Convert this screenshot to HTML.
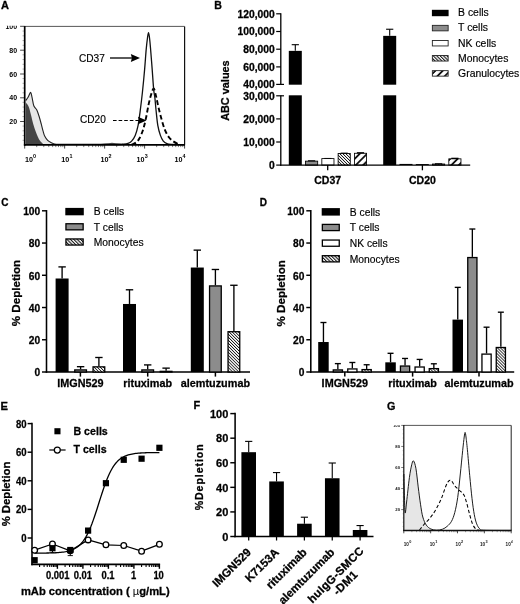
<!DOCTYPE html>
<html><head><meta charset="utf-8"><title>figure</title>
<style>
html,body{margin:0;padding:0;background:#fff;overflow:hidden;}
.hb{stroke:#000;stroke-width:0.28px;}
.hr{stroke:#000;stroke-width:0.16px;}
svg{display:block;will-change:transform;filter:blur(0.3px);font-family:"Liberation Sans",sans-serif;}
</style></head>
<body>
<svg width="520" height="604" viewBox="0 0 520 604">
<rect width="520" height="604" fill="#fff"/>
<defs>
<pattern id="hf" width="2.15" height="2.15" patternUnits="userSpaceOnUse" patternTransform="rotate(-45)">
<rect width="2.15" height="2.15" fill="#fff"/><rect width="0.8" height="2.15" fill="#111"/></pattern>
<pattern id="hl" width="2.4" height="2.4" patternUnits="userSpaceOnUse" patternTransform="rotate(-45)">
<rect width="2.4" height="2.4" fill="#fff"/><rect width="1.05" height="2.4" fill="#111"/></pattern>
<pattern id="hc" width="5.2" height="5.2" patternUnits="userSpaceOnUse" patternTransform="rotate(-135)">
<rect width="5.2" height="5.2" fill="#fff"/><rect width="1.8" height="5.2" fill="#111"/></pattern>
</defs>
<text x="0.90" y="9.10" font-size="11" font-weight="bold" text-anchor="start" fill="#000"  class="hb">A</text>
<clipPath id="clipA"><rect x="0" y="25.8" width="30" height="10"/></clipPath>
<line x1="24.70" y1="26.40" x2="184.60" y2="26.40" stroke="#444" stroke-width="0.9" />
<line x1="184.60" y1="26.40" x2="184.60" y2="144.80" stroke="#111" stroke-width="1.2" />
<line x1="20.10" y1="26.30" x2="24.70" y2="26.30" stroke="#333" stroke-width="0.9" />
<text x="17.10" y="28.90" font-size="7.0" font-weight="bold" text-anchor="end" fill="#000" clip-path="url(#clipA)">100</text>
<line x1="20.10" y1="50.20" x2="24.70" y2="50.20" stroke="#333" stroke-width="0.9" />
<text x="17.10" y="52.80" font-size="7.0" font-weight="bold" text-anchor="end" fill="#000" >80</text>
<line x1="20.10" y1="74.00" x2="24.70" y2="74.00" stroke="#333" stroke-width="0.9" />
<text x="17.10" y="76.60" font-size="7.0" font-weight="bold" text-anchor="end" fill="#000" >60</text>
<line x1="20.10" y1="97.80" x2="24.70" y2="97.80" stroke="#333" stroke-width="0.9" />
<text x="17.10" y="100.40" font-size="7.0" font-weight="bold" text-anchor="end" fill="#000" >40</text>
<line x1="20.10" y1="121.50" x2="24.70" y2="121.50" stroke="#333" stroke-width="0.9" />
<text x="17.10" y="124.10" font-size="7.0" font-weight="bold" text-anchor="end" fill="#000" >20</text>
<line x1="22.50" y1="31.05" x2="24.70" y2="31.05" stroke="#777" stroke-width="0.6" />
<line x1="22.50" y1="35.80" x2="24.70" y2="35.80" stroke="#777" stroke-width="0.6" />
<line x1="22.50" y1="40.55" x2="24.70" y2="40.55" stroke="#777" stroke-width="0.6" />
<line x1="22.50" y1="45.30" x2="24.70" y2="45.30" stroke="#777" stroke-width="0.6" />
<line x1="22.50" y1="54.80" x2="24.70" y2="54.80" stroke="#777" stroke-width="0.6" />
<line x1="22.50" y1="59.55" x2="24.70" y2="59.55" stroke="#777" stroke-width="0.6" />
<line x1="22.50" y1="64.30" x2="24.70" y2="64.30" stroke="#777" stroke-width="0.6" />
<line x1="22.50" y1="69.05" x2="24.70" y2="69.05" stroke="#777" stroke-width="0.6" />
<line x1="22.50" y1="78.55" x2="24.70" y2="78.55" stroke="#777" stroke-width="0.6" />
<line x1="22.50" y1="83.30" x2="24.70" y2="83.30" stroke="#777" stroke-width="0.6" />
<line x1="22.50" y1="88.05" x2="24.70" y2="88.05" stroke="#777" stroke-width="0.6" />
<line x1="22.50" y1="92.80" x2="24.70" y2="92.80" stroke="#777" stroke-width="0.6" />
<line x1="22.50" y1="102.30" x2="24.70" y2="102.30" stroke="#777" stroke-width="0.6" />
<line x1="22.50" y1="107.05" x2="24.70" y2="107.05" stroke="#777" stroke-width="0.6" />
<line x1="22.50" y1="111.80" x2="24.70" y2="111.80" stroke="#777" stroke-width="0.6" />
<line x1="22.50" y1="116.55" x2="24.70" y2="116.55" stroke="#777" stroke-width="0.6" />
<line x1="22.50" y1="126.05" x2="24.70" y2="126.05" stroke="#777" stroke-width="0.6" />
<line x1="22.50" y1="130.80" x2="24.70" y2="130.80" stroke="#777" stroke-width="0.6" />
<line x1="22.50" y1="135.55" x2="24.70" y2="135.55" stroke="#777" stroke-width="0.6" />
<line x1="22.50" y1="140.30" x2="24.70" y2="140.30" stroke="#777" stroke-width="0.6" />
<line x1="24.70" y1="144.80" x2="24.70" y2="148.60" stroke="#333" stroke-width="0.9" />
<line x1="36.73" y1="144.80" x2="36.73" y2="147.10" stroke="#444" stroke-width="0.7" />
<line x1="43.77" y1="144.80" x2="43.77" y2="147.10" stroke="#444" stroke-width="0.7" />
<line x1="48.77" y1="144.80" x2="48.77" y2="147.10" stroke="#444" stroke-width="0.7" />
<line x1="52.64" y1="144.80" x2="52.64" y2="147.10" stroke="#444" stroke-width="0.7" />
<line x1="55.81" y1="144.80" x2="55.81" y2="147.10" stroke="#444" stroke-width="0.7" />
<line x1="58.48" y1="144.80" x2="58.48" y2="147.10" stroke="#444" stroke-width="0.7" />
<line x1="60.80" y1="144.80" x2="60.80" y2="147.10" stroke="#444" stroke-width="0.7" />
<line x1="62.85" y1="144.80" x2="62.85" y2="147.10" stroke="#444" stroke-width="0.7" />
<line x1="64.67" y1="144.80" x2="64.67" y2="148.60" stroke="#333" stroke-width="0.9" />
<line x1="76.71" y1="144.80" x2="76.71" y2="147.10" stroke="#444" stroke-width="0.7" />
<line x1="83.75" y1="144.80" x2="83.75" y2="147.10" stroke="#444" stroke-width="0.7" />
<line x1="88.74" y1="144.80" x2="88.74" y2="147.10" stroke="#444" stroke-width="0.7" />
<line x1="92.62" y1="144.80" x2="92.62" y2="147.10" stroke="#444" stroke-width="0.7" />
<line x1="95.78" y1="144.80" x2="95.78" y2="147.10" stroke="#444" stroke-width="0.7" />
<line x1="98.46" y1="144.80" x2="98.46" y2="147.10" stroke="#444" stroke-width="0.7" />
<line x1="100.78" y1="144.80" x2="100.78" y2="147.10" stroke="#444" stroke-width="0.7" />
<line x1="102.82" y1="144.80" x2="102.82" y2="147.10" stroke="#444" stroke-width="0.7" />
<line x1="104.65" y1="144.80" x2="104.65" y2="148.60" stroke="#333" stroke-width="0.9" />
<line x1="116.68" y1="144.80" x2="116.68" y2="147.10" stroke="#444" stroke-width="0.7" />
<line x1="123.72" y1="144.80" x2="123.72" y2="147.10" stroke="#444" stroke-width="0.7" />
<line x1="128.72" y1="144.80" x2="128.72" y2="147.10" stroke="#444" stroke-width="0.7" />
<line x1="132.59" y1="144.80" x2="132.59" y2="147.10" stroke="#444" stroke-width="0.7" />
<line x1="135.76" y1="144.80" x2="135.76" y2="147.10" stroke="#444" stroke-width="0.7" />
<line x1="138.43" y1="144.80" x2="138.43" y2="147.10" stroke="#444" stroke-width="0.7" />
<line x1="140.75" y1="144.80" x2="140.75" y2="147.10" stroke="#444" stroke-width="0.7" />
<line x1="142.80" y1="144.80" x2="142.80" y2="147.10" stroke="#444" stroke-width="0.7" />
<line x1="144.62" y1="144.80" x2="144.62" y2="148.60" stroke="#333" stroke-width="0.9" />
<line x1="156.66" y1="144.80" x2="156.66" y2="147.10" stroke="#444" stroke-width="0.7" />
<line x1="163.70" y1="144.80" x2="163.70" y2="147.10" stroke="#444" stroke-width="0.7" />
<line x1="168.69" y1="144.80" x2="168.69" y2="147.10" stroke="#444" stroke-width="0.7" />
<line x1="172.57" y1="144.80" x2="172.57" y2="147.10" stroke="#444" stroke-width="0.7" />
<line x1="175.73" y1="144.80" x2="175.73" y2="147.10" stroke="#444" stroke-width="0.7" />
<line x1="178.41" y1="144.80" x2="178.41" y2="147.10" stroke="#444" stroke-width="0.7" />
<line x1="180.73" y1="144.80" x2="180.73" y2="147.10" stroke="#444" stroke-width="0.7" />
<line x1="182.77" y1="144.80" x2="182.77" y2="147.10" stroke="#444" stroke-width="0.7" />
<line x1="184.60" y1="144.80" x2="184.60" y2="148.60" stroke="#333" stroke-width="0.9" />
<text x="24.90" y="161.70" font-size="7.2" font-weight="bold" text-anchor="start" fill="#000" >10</text>
<text x="33.10" y="157.50" font-size="5.4" font-weight="bold" text-anchor="start" fill="#000" >0</text>
<text x="61.20" y="161.70" font-size="7.2" font-weight="bold" text-anchor="start" fill="#000" >10</text>
<text x="69.40" y="157.50" font-size="5.4" font-weight="bold" text-anchor="start" fill="#000" >1</text>
<text x="100.40" y="161.70" font-size="7.2" font-weight="bold" text-anchor="start" fill="#000" >10</text>
<text x="108.60" y="157.50" font-size="5.4" font-weight="bold" text-anchor="start" fill="#000" >2</text>
<text x="136.60" y="161.70" font-size="7.2" font-weight="bold" text-anchor="start" fill="#000" >10</text>
<text x="144.80" y="157.50" font-size="5.4" font-weight="bold" text-anchor="start" fill="#000" >3</text>
<text x="174.40" y="161.70" font-size="7.2" font-weight="bold" text-anchor="start" fill="#000" >10</text>
<text x="182.60" y="157.50" font-size="5.4" font-weight="bold" text-anchor="start" fill="#000" >4</text>
<path d="M25.80,100.50 C26.20,99.92 27.40,98.35 28.20,97.00 C29.00,95.65 29.95,92.28 30.60,92.40 C31.25,92.52 31.57,95.47 32.10,97.70 C32.63,99.93 33.03,103.78 33.80,105.80 C34.57,107.82 35.83,108.10 36.70,109.80 C37.57,111.50 38.23,113.60 39.00,116.00 C39.77,118.40 40.62,121.67 41.30,124.20 C41.98,126.73 42.52,129.18 43.10,131.20 C43.68,133.22 44.03,134.77 44.80,136.30 C45.57,137.83 46.63,139.33 47.70,140.40 C48.77,141.47 50.05,142.10 51.20,142.70 C52.35,143.30 53.13,143.72 54.60,144.00 C56.07,144.28 59.10,144.33 60.00,144.40 L60,144.8 L25.8,144.8 Z" fill="#e6e6e6" stroke="none" stroke-width="1" />
<path d="M25.80,102.60 C26.28,103.30 27.83,104.73 28.70,106.80 C29.57,108.87 30.23,112.10 31.00,115.00 C31.77,117.90 32.53,121.50 33.30,124.20 C34.07,126.90 34.83,129.07 35.60,131.20 C36.37,133.33 37.13,135.37 37.90,137.00 C38.67,138.63 39.28,139.80 40.20,141.00 C41.12,142.20 42.87,143.67 43.40,144.20 L25.8,144.8 Z" fill="#454545" stroke="none" stroke-width="1" />
<path d="M25.80,100.50 C26.20,99.92 27.40,98.35 28.20,97.00 C29.00,95.65 29.95,92.28 30.60,92.40 C31.25,92.52 31.57,95.47 32.10,97.70 C32.63,99.93 33.03,103.78 33.80,105.80 C34.57,107.82 35.83,108.10 36.70,109.80 C37.57,111.50 38.23,113.60 39.00,116.00 C39.77,118.40 40.62,121.67 41.30,124.20 C41.98,126.73 42.52,129.18 43.10,131.20 C43.68,133.22 44.03,134.77 44.80,136.30 C45.57,137.83 46.63,139.33 47.70,140.40 C48.77,141.47 50.05,142.10 51.20,142.70 C52.35,143.30 53.13,143.72 54.60,144.00 C56.07,144.28 59.10,144.33 60.00,144.40" fill="none" stroke="#222" stroke-width="1.1" />
<path d="M96,144.8 C103,143.20000000000002 108,143.60000000000002 112,142.8 C117,143.8 122,143.4 128,144.8 Z" fill="#555" stroke="none" stroke-width="1" />
<path d="M131.50,144.60 C132.23,144.27 134.57,143.65 135.90,142.60 C137.23,141.55 138.30,140.47 139.50,138.30 C140.70,136.13 142.02,132.98 143.10,129.60 C144.18,126.22 145.10,122.10 146.00,118.00 C146.90,113.90 147.67,108.83 148.50,105.00 C149.33,101.17 150.13,97.75 151.00,95.00 C151.87,92.25 152.85,88.27 153.70,88.50 C154.55,88.73 155.33,93.40 156.10,96.40 C156.87,99.40 157.45,102.90 158.30,106.50 C159.15,110.10 160.12,114.15 161.20,118.00 C162.28,121.85 163.48,126.35 164.80,129.60 C166.12,132.85 167.55,135.45 169.10,137.50 C170.65,139.55 172.45,140.75 174.10,141.90 C175.75,143.05 178.18,143.98 179.00,144.40" fill="none" stroke="#000" stroke-width="1.9" stroke-dasharray="4.8 2.7"/>
<path d="M60.00,144.40 C69.67,144.42 107.63,144.53 118.00,144.50 C128.37,144.47 120.53,144.40 122.20,144.20 C123.87,144.00 126.43,143.82 128.00,143.30 C129.57,142.78 130.40,142.42 131.60,141.10 C132.80,139.78 134.12,138.03 135.20,135.40 C136.28,132.77 137.27,129.40 138.10,125.30 C138.93,121.20 139.48,116.27 140.20,110.80 C140.92,105.33 141.67,99.37 142.40,92.50 C143.13,85.63 143.97,76.78 144.60,69.60 C145.23,62.42 145.70,54.83 146.20,49.40 C146.70,43.97 147.22,39.80 147.60,37.00 C147.98,34.20 148.20,32.60 148.50,32.60 C148.80,32.60 149.07,34.43 149.40,37.00 C149.73,39.57 150.03,42.57 150.50,48.00 C150.97,53.43 151.67,62.63 152.20,69.60 C152.73,76.57 153.25,85.07 153.70,89.80 C154.15,94.53 154.50,94.50 154.90,98.00 C155.30,101.50 155.62,106.25 156.10,110.80 C156.58,115.35 157.08,121.20 157.80,125.30 C158.52,129.40 159.48,132.77 160.40,135.40 C161.32,138.03 162.22,139.72 163.30,141.10 C164.38,142.48 165.57,143.15 166.90,143.70 C168.23,144.25 168.45,144.25 171.30,144.40 C174.15,144.55 181.88,144.57 184.00,144.60" fill="none" stroke="#111" stroke-width="1.3" />
<line x1="24.70" y1="26.10" x2="24.70" y2="145.70" stroke="#000" stroke-width="1.7" />
<line x1="23.90" y1="144.80" x2="185.00" y2="144.80" stroke="#000" stroke-width="1.7" />
<text x="79.00" y="61.90" font-size="10.1" font-weight="normal" text-anchor="start" fill="#000"  class="hr">CD37</text>
<line x1="110.00" y1="58.00" x2="133.00" y2="58.00" stroke="#000" stroke-width="1.3" />
<path d="M140.00,58.00 L130.80,54.10 L131.90,58.00 L130.80,61.90 Z" fill="#000" stroke="none" stroke-width="1" />
<text x="80.00" y="123.40" font-size="10.1" font-weight="normal" text-anchor="start" fill="#000"  class="hr">CD20</text>
<line x1="113.00" y1="120.50" x2="139.00" y2="120.50" stroke="#000" stroke-width="1.2" stroke-dasharray="3.6 2"/>
<path d="M146.50,120.50 L138.00,116.70 L139.10,120.50 L138.00,124.30 Z" fill="#000" stroke="none" stroke-width="1" />
<text x="214.20" y="9.20" font-size="10.6" font-weight="bold" text-anchor="start" fill="#000"  class="hb">B</text>
<line x1="280.80" y1="13.20" x2="280.80" y2="85.00" stroke="#000" stroke-width="1.3" />
<line x1="276.20" y1="13.80" x2="280.80" y2="13.80" stroke="#000" stroke-width="1.2" />
<text x="274.80" y="17.50" font-size="10.3" font-weight="bold" text-anchor="end" fill="#000"  class="hb">120,000</text>
<line x1="276.20" y1="31.50" x2="280.80" y2="31.50" stroke="#000" stroke-width="1.2" />
<text x="274.80" y="35.20" font-size="10.3" font-weight="bold" text-anchor="end" fill="#000"  class="hb">100,000</text>
<line x1="276.20" y1="49.20" x2="280.80" y2="49.20" stroke="#000" stroke-width="1.2" />
<text x="274.80" y="52.90" font-size="10.3" font-weight="bold" text-anchor="end" fill="#000"  class="hb">80,000</text>
<line x1="276.20" y1="66.90" x2="280.80" y2="66.90" stroke="#000" stroke-width="1.2" />
<text x="274.80" y="70.60" font-size="10.3" font-weight="bold" text-anchor="end" fill="#000"  class="hb">60,000</text>
<line x1="276.20" y1="84.40" x2="280.80" y2="84.40" stroke="#000" stroke-width="1.2" />
<text x="274.80" y="88.10" font-size="10.3" font-weight="bold" text-anchor="end" fill="#000"  class="hb">40,000</text>
<line x1="280.80" y1="84.40" x2="284.00" y2="84.40" stroke="#000" stroke-width="1.2" />
<line x1="280.80" y1="95.20" x2="280.80" y2="165.70" stroke="#000" stroke-width="1.3" />
<line x1="276.20" y1="95.80" x2="280.80" y2="95.80" stroke="#000" stroke-width="1.2" />
<text x="274.80" y="99.50" font-size="10.3" font-weight="bold" text-anchor="end" fill="#000"  class="hb">30,000</text>
<line x1="276.20" y1="118.90" x2="280.80" y2="118.90" stroke="#000" stroke-width="1.2" />
<text x="274.80" y="122.60" font-size="10.3" font-weight="bold" text-anchor="end" fill="#000"  class="hb">20,000</text>
<line x1="276.20" y1="142.00" x2="280.80" y2="142.00" stroke="#000" stroke-width="1.2" />
<text x="274.80" y="145.70" font-size="10.3" font-weight="bold" text-anchor="end" fill="#000"  class="hb">10,000</text>
<line x1="276.20" y1="165.10" x2="280.80" y2="165.10" stroke="#000" stroke-width="1.2" />
<text x="274.80" y="168.80" font-size="10.3" font-weight="bold" text-anchor="end" fill="#000"  class="hb">0</text>
<line x1="280.80" y1="95.80" x2="284.00" y2="95.80" stroke="#000" stroke-width="1.2" />
<rect x="288.80" y="50.87" width="13.00" height="33.83" fill="#000" stroke="none" stroke-width="1" />
<rect x="288.80" y="95.30" width="13.00" height="69.80" fill="#000" stroke="none" stroke-width="1" />
<line x1="295.30" y1="50.87" x2="295.30" y2="44.69" stroke="#000" stroke-width="1.1" />
<line x1="291.70" y1="44.69" x2="298.90" y2="44.69" stroke="#000" stroke-width="1.1" />
<rect x="305.53" y="161.14" width="12.15" height="3.96" fill="#8c8c8c" stroke="#000" stroke-width="0.85" />
<rect x="308.00" y="160.25" width="7.20" height="1.06" fill="#000" stroke="none" stroke-width="1" />
<rect x="321.83" y="158.59" width="12.15" height="6.51" fill="#fff" stroke="#000" stroke-width="0.85" />
<rect x="324.30" y="157.94" width="7.20" height="0.83" fill="#000" stroke="none" stroke-width="1" />
<rect x="338.13" y="153.51" width="12.15" height="11.59" fill="url(#hf)" stroke="#000" stroke-width="0.85" />
<rect x="340.60" y="152.63" width="7.20" height="1.06" fill="#000" stroke="none" stroke-width="1" />
<rect x="354.43" y="153.28" width="12.15" height="11.82" fill="url(#hc)" stroke="#000" stroke-width="0.85" />
<rect x="356.90" y="152.16" width="7.20" height="1.29" fill="#000" stroke="none" stroke-width="1" />
<line x1="327.70" y1="165.10" x2="327.70" y2="170.30" stroke="#000" stroke-width="1.3" />
<text x="327.70" y="184.40" font-size="10.5" font-weight="bold" text-anchor="middle" fill="#000"  class="hb">CD37</text>
<rect x="383.20" y="35.86" width="13.00" height="48.84" fill="#000" stroke="none" stroke-width="1" />
<rect x="383.20" y="95.30" width="13.00" height="69.80" fill="#000" stroke="none" stroke-width="1" />
<line x1="389.70" y1="35.86" x2="389.70" y2="29.24" stroke="#000" stroke-width="1.1" />
<line x1="386.10" y1="29.24" x2="393.30" y2="29.24" stroke="#000" stroke-width="1.1" />
<line x1="399.50" y1="164.46" x2="412.50" y2="164.46" stroke="#000" stroke-width="1.0771999999999935" />
<line x1="415.80" y1="164.53" x2="428.80" y2="164.53" stroke="#000" stroke-width="0.9385999999999968" />
<rect x="432.53" y="164.02" width="12.15" height="1.08" fill="url(#hf)" stroke="#000" stroke-width="0.85" />
<rect x="435.00" y="163.25" width="7.20" height="0.95" fill="#000" stroke="none" stroke-width="1" />
<rect x="448.82" y="158.83" width="12.15" height="6.27" fill="url(#hc)" stroke="#000" stroke-width="0.85" />
<rect x="451.30" y="157.71" width="7.20" height="1.29" fill="#000" stroke="none" stroke-width="1" />
<line x1="422.40" y1="165.10" x2="422.40" y2="170.30" stroke="#000" stroke-width="1.3" />
<text x="422.40" y="184.40" font-size="10.5" font-weight="bold" text-anchor="middle" fill="#000"  class="hb">CD20</text>
<line x1="280.15" y1="165.10" x2="470.20" y2="165.10" stroke="#000" stroke-width="1.4" />
<text transform="translate(228.90,90.60) rotate(-90)" font-size="10.9" font-weight="bold" text-anchor="middle" fill="#000" class="hb">ABC values</text>
<rect x="431.90" y="9.80" width="16.70" height="6.40" fill="#000" stroke="none" stroke-width="1" />
<text x="458.10" y="16.30" font-size="10.4" font-weight="normal" text-anchor="start" fill="#000"  class="hr">B cells</text>
<rect x="432.35" y="25.35" width="15.80" height="5.50" fill="#8c8c8c" stroke="#222" stroke-width="0.9" />
<text x="458.10" y="31.40" font-size="10.4" font-weight="normal" text-anchor="start" fill="#000"  class="hr">T cells</text>
<rect x="432.35" y="40.45" width="15.80" height="5.50" fill="#fff" stroke="#222" stroke-width="0.9" />
<text x="458.10" y="46.50" font-size="10.4" font-weight="normal" text-anchor="start" fill="#000"  class="hr">NK cells</text>
<rect x="432.35" y="55.55" width="15.80" height="5.50" fill="url(#hl)" stroke="#222" stroke-width="0.9" />
<text x="458.10" y="61.60" font-size="10.4" font-weight="normal" text-anchor="start" fill="#000"  class="hr">Monocytes</text>
<rect x="432.35" y="70.65" width="15.80" height="5.50" fill="url(#hc)" stroke="#222" stroke-width="0.9" />
<text x="458.10" y="76.70" font-size="10.4" font-weight="normal" text-anchor="start" fill="#000"  class="hr">Granulocytes</text>
<text x="1.20" y="206.20" font-size="10" font-weight="bold" text-anchor="start" fill="#000"  class="hb">C</text>
<line x1="46.50" y1="210.05" x2="46.50" y2="372.75" stroke="#000" stroke-width="1.55" />
<line x1="42.00" y1="210.80" x2="46.50" y2="210.80" stroke="#000" stroke-width="1.45" />
<text transform="translate(40.20,215.10) scale(0.93,1)" font-size="11.0" font-weight="bold" text-anchor="end" fill="#000"  class="hb">100</text>
<line x1="42.00" y1="243.04" x2="46.50" y2="243.04" stroke="#000" stroke-width="1.45" />
<text transform="translate(40.20,247.34) scale(0.93,1)" font-size="11.0" font-weight="bold" text-anchor="end" fill="#000"  class="hb">80</text>
<line x1="42.00" y1="275.28" x2="46.50" y2="275.28" stroke="#000" stroke-width="1.45" />
<text transform="translate(40.20,279.58) scale(0.93,1)" font-size="11.0" font-weight="bold" text-anchor="end" fill="#000"  class="hb">60</text>
<line x1="42.00" y1="307.52" x2="46.50" y2="307.52" stroke="#000" stroke-width="1.45" />
<text transform="translate(40.20,311.82) scale(0.93,1)" font-size="11.0" font-weight="bold" text-anchor="end" fill="#000"  class="hb">40</text>
<line x1="42.00" y1="339.76" x2="46.50" y2="339.76" stroke="#000" stroke-width="1.45" />
<text transform="translate(40.20,344.06) scale(0.93,1)" font-size="11.0" font-weight="bold" text-anchor="end" fill="#000"  class="hb">20</text>
<line x1="42.00" y1="372.00" x2="46.50" y2="372.00" stroke="#000" stroke-width="1.45" />
<text transform="translate(40.20,376.30) scale(0.93,1)" font-size="11.0" font-weight="bold" text-anchor="end" fill="#000"  class="hb">0</text>
<line x1="45.75" y1="372.00" x2="250.00" y2="372.00" stroke="#000" stroke-width="1.6" />
<line x1="62.10" y1="278.50" x2="62.10" y2="266.90" stroke="#000" stroke-width="1.35" />
<line x1="58.40" y1="266.90" x2="65.80" y2="266.90" stroke="#000" stroke-width="1.35" />
<rect x="55.60" y="278.50" width="13.00" height="93.50" fill="#000" stroke="none" stroke-width="1" />
<line x1="80.60" y1="369.26" x2="80.60" y2="366.68" stroke="#000" stroke-width="1.35" />
<line x1="76.90" y1="366.68" x2="84.30" y2="366.68" stroke="#000" stroke-width="1.35" />
<rect x="74.75" y="369.91" width="11.70" height="2.09" fill="#8c8c8c" stroke="#000" stroke-width="1.3" />
<line x1="98.90" y1="366.20" x2="98.90" y2="357.49" stroke="#000" stroke-width="1.35" />
<line x1="95.20" y1="357.49" x2="102.60" y2="357.49" stroke="#000" stroke-width="1.35" />
<rect x="93.05" y="366.85" width="11.70" height="5.15" fill="url(#hf)" stroke="#000" stroke-width="1.3" />
<line x1="80.40" y1="372.00" x2="80.40" y2="376.60" stroke="#000" stroke-width="1.5" />
<text transform="translate(80.40,387.00) scale(0.935,1)" font-size="11.6" font-weight="bold" text-anchor="middle" fill="#000"  class="hb">IMGN529</text>
<line x1="129.50" y1="303.97" x2="129.50" y2="289.79" stroke="#000" stroke-width="1.35" />
<line x1="125.80" y1="289.79" x2="133.20" y2="289.79" stroke="#000" stroke-width="1.35" />
<rect x="123.00" y="303.97" width="13.00" height="68.03" fill="#000" stroke="none" stroke-width="1" />
<line x1="147.70" y1="369.26" x2="147.70" y2="364.91" stroke="#000" stroke-width="1.35" />
<line x1="144.00" y1="364.91" x2="151.40" y2="364.91" stroke="#000" stroke-width="1.35" />
<rect x="141.85" y="369.91" width="11.70" height="2.09" fill="#8c8c8c" stroke="#000" stroke-width="1.3" />
<line x1="166.10" y1="370.71" x2="166.10" y2="368.13" stroke="#000" stroke-width="1.35" />
<line x1="162.40" y1="368.13" x2="169.80" y2="368.13" stroke="#000" stroke-width="1.35" />
<rect x="160.25" y="371.36" width="11.70" height="0.64" fill="url(#hf)" stroke="#000" stroke-width="1.3" />
<line x1="147.70" y1="372.00" x2="147.70" y2="376.60" stroke="#000" stroke-width="1.5" />
<text transform="translate(147.70,387.00) scale(0.935,1)" font-size="11.6" font-weight="bold" text-anchor="middle" fill="#000"  class="hb">rituximab</text>
<line x1="197.30" y1="267.54" x2="197.30" y2="250.13" stroke="#000" stroke-width="1.35" />
<line x1="193.60" y1="250.13" x2="201.00" y2="250.13" stroke="#000" stroke-width="1.35" />
<rect x="190.80" y="267.54" width="13.00" height="104.46" fill="#000" stroke="none" stroke-width="1" />
<line x1="215.40" y1="285.27" x2="215.40" y2="269.48" stroke="#000" stroke-width="1.35" />
<line x1="211.70" y1="269.48" x2="219.10" y2="269.48" stroke="#000" stroke-width="1.35" />
<rect x="209.55" y="285.92" width="11.70" height="86.08" fill="#8c8c8c" stroke="#000" stroke-width="1.3" />
<line x1="233.90" y1="331.06" x2="233.90" y2="285.27" stroke="#000" stroke-width="1.35" />
<line x1="230.20" y1="285.27" x2="237.60" y2="285.27" stroke="#000" stroke-width="1.35" />
<rect x="228.05" y="331.71" width="11.70" height="40.29" fill="url(#hf)" stroke="#000" stroke-width="1.3" />
<line x1="215.40" y1="372.00" x2="215.40" y2="376.60" stroke="#000" stroke-width="1.5" />
<text transform="translate(215.40,387.00) scale(0.935,1)" font-size="11.6" font-weight="bold" text-anchor="middle" fill="#000"  class="hb">alemtuzumab</text>
<text transform="translate(19.60,293.00) rotate(-90)" font-size="11.6" font-weight="bold" text-anchor="middle" fill="#000" class="hb">% Depletion</text>
<rect x="65.30" y="207.90" width="18.50" height="7.40" fill="#000" stroke="none" stroke-width="1" />
<text x="93.80" y="215.40" font-size="10.3" font-weight="normal" text-anchor="start" fill="#000"  class="hr">B cells</text>
<rect x="65.95" y="223.75" width="17.20" height="6.10" fill="#8c8c8c" stroke="#000" stroke-width="1.3" />
<text x="93.80" y="230.60" font-size="10.3" font-weight="normal" text-anchor="start" fill="#000"  class="hr">T cells</text>
<rect x="65.95" y="238.95" width="17.20" height="6.10" fill="url(#hl)" stroke="#000" stroke-width="1.3" />
<text x="93.80" y="245.80" font-size="10.3" font-weight="normal" text-anchor="start" fill="#000"  class="hr">Monocytes</text>
<text x="259.80" y="206.20" font-size="10" font-weight="bold" text-anchor="start" fill="#000"  class="hb">D</text>
<line x1="310.80" y1="210.05" x2="310.80" y2="372.75" stroke="#000" stroke-width="1.55" />
<line x1="306.30" y1="210.80" x2="310.80" y2="210.80" stroke="#000" stroke-width="1.45" />
<text transform="translate(304.40,215.10) scale(0.93,1)" font-size="11.0" font-weight="bold" text-anchor="end" fill="#000"  class="hb">100</text>
<line x1="306.30" y1="243.04" x2="310.80" y2="243.04" stroke="#000" stroke-width="1.45" />
<text transform="translate(304.40,247.34) scale(0.93,1)" font-size="11.0" font-weight="bold" text-anchor="end" fill="#000"  class="hb">80</text>
<line x1="306.30" y1="275.28" x2="310.80" y2="275.28" stroke="#000" stroke-width="1.45" />
<text transform="translate(304.40,279.58) scale(0.93,1)" font-size="11.0" font-weight="bold" text-anchor="end" fill="#000"  class="hb">60</text>
<line x1="306.30" y1="307.52" x2="310.80" y2="307.52" stroke="#000" stroke-width="1.45" />
<text transform="translate(304.40,311.82) scale(0.93,1)" font-size="11.0" font-weight="bold" text-anchor="end" fill="#000"  class="hb">40</text>
<line x1="306.30" y1="339.76" x2="310.80" y2="339.76" stroke="#000" stroke-width="1.45" />
<text transform="translate(304.40,344.06) scale(0.93,1)" font-size="11.0" font-weight="bold" text-anchor="end" fill="#000"  class="hb">20</text>
<line x1="306.30" y1="372.00" x2="310.80" y2="372.00" stroke="#000" stroke-width="1.45" />
<text transform="translate(304.40,376.30) scale(0.93,1)" font-size="11.0" font-weight="bold" text-anchor="end" fill="#000"  class="hb">0</text>
<line x1="310.05" y1="372.00" x2="514.20" y2="372.00" stroke="#000" stroke-width="1.6" />
<line x1="323.45" y1="342.02" x2="323.45" y2="322.51" stroke="#000" stroke-width="1.35" />
<line x1="320.45" y1="322.51" x2="326.45" y2="322.51" stroke="#000" stroke-width="1.35" />
<rect x="318.20" y="342.02" width="10.50" height="29.98" fill="#000" stroke="none" stroke-width="1" />
<line x1="337.85" y1="369.26" x2="337.85" y2="363.62" stroke="#000" stroke-width="1.35" />
<line x1="334.85" y1="363.62" x2="340.85" y2="363.62" stroke="#000" stroke-width="1.35" />
<rect x="333.25" y="369.91" width="9.20" height="2.09" fill="#8c8c8c" stroke="#000" stroke-width="1.3" />
<line x1="352.35" y1="368.29" x2="352.35" y2="362.49" stroke="#000" stroke-width="1.35" />
<line x1="349.35" y1="362.49" x2="355.35" y2="362.49" stroke="#000" stroke-width="1.35" />
<rect x="347.75" y="368.94" width="9.20" height="3.06" fill="#fff" stroke="#000" stroke-width="1.3" />
<line x1="366.65" y1="368.94" x2="366.65" y2="364.75" stroke="#000" stroke-width="1.35" />
<line x1="363.65" y1="364.75" x2="369.65" y2="364.75" stroke="#000" stroke-width="1.35" />
<rect x="362.05" y="369.59" width="9.20" height="2.41" fill="url(#hf)" stroke="#000" stroke-width="1.3" />
<line x1="344.80" y1="372.00" x2="344.80" y2="376.60" stroke="#000" stroke-width="1.5" />
<text transform="translate(344.80,386.80) scale(0.935,1)" font-size="11.6" font-weight="bold" text-anchor="middle" fill="#000"  class="hb">IMGN529</text>
<line x1="390.55" y1="362.33" x2="390.55" y2="353.30" stroke="#000" stroke-width="1.35" />
<line x1="387.55" y1="353.30" x2="393.55" y2="353.30" stroke="#000" stroke-width="1.35" />
<rect x="385.30" y="362.33" width="10.50" height="9.67" fill="#000" stroke="none" stroke-width="1" />
<line x1="405.05" y1="365.39" x2="405.05" y2="358.46" stroke="#000" stroke-width="1.35" />
<line x1="402.05" y1="358.46" x2="408.05" y2="358.46" stroke="#000" stroke-width="1.35" />
<rect x="400.45" y="366.04" width="9.20" height="5.96" fill="#8c8c8c" stroke="#000" stroke-width="1.3" />
<line x1="419.65" y1="366.36" x2="419.65" y2="359.43" stroke="#000" stroke-width="1.35" />
<line x1="416.65" y1="359.43" x2="422.65" y2="359.43" stroke="#000" stroke-width="1.35" />
<rect x="415.05" y="367.01" width="9.20" height="4.99" fill="#fff" stroke="#000" stroke-width="1.3" />
<line x1="433.85" y1="367.97" x2="433.85" y2="363.78" stroke="#000" stroke-width="1.35" />
<line x1="430.85" y1="363.78" x2="436.85" y2="363.78" stroke="#000" stroke-width="1.35" />
<rect x="429.25" y="368.62" width="9.20" height="3.38" fill="url(#hf)" stroke="#000" stroke-width="1.3" />
<line x1="412.60" y1="372.00" x2="412.60" y2="376.60" stroke="#000" stroke-width="1.5" />
<text transform="translate(412.60,386.80) scale(0.935,1)" font-size="11.6" font-weight="bold" text-anchor="middle" fill="#000"  class="hb">rituximab</text>
<line x1="457.75" y1="319.61" x2="457.75" y2="287.37" stroke="#000" stroke-width="1.35" />
<line x1="454.75" y1="287.37" x2="460.75" y2="287.37" stroke="#000" stroke-width="1.35" />
<rect x="452.50" y="319.61" width="10.50" height="52.39" fill="#000" stroke="none" stroke-width="1" />
<line x1="472.35" y1="256.90" x2="472.35" y2="229.02" stroke="#000" stroke-width="1.35" />
<line x1="469.35" y1="229.02" x2="475.35" y2="229.02" stroke="#000" stroke-width="1.35" />
<rect x="467.75" y="257.55" width="9.20" height="114.45" fill="#8c8c8c" stroke="#000" stroke-width="1.3" />
<line x1="486.55" y1="353.46" x2="486.55" y2="327.19" stroke="#000" stroke-width="1.35" />
<line x1="483.55" y1="327.19" x2="489.55" y2="327.19" stroke="#000" stroke-width="1.35" />
<rect x="481.95" y="354.11" width="9.20" height="17.89" fill="#fff" stroke="#000" stroke-width="1.3" />
<line x1="500.85" y1="346.85" x2="500.85" y2="312.19" stroke="#000" stroke-width="1.35" />
<line x1="497.85" y1="312.19" x2="503.85" y2="312.19" stroke="#000" stroke-width="1.35" />
<rect x="496.25" y="347.50" width="9.20" height="24.50" fill="url(#hf)" stroke="#000" stroke-width="1.3" />
<line x1="479.00" y1="372.00" x2="479.00" y2="376.60" stroke="#000" stroke-width="1.5" />
<text transform="translate(479.00,386.80) scale(0.935,1)" font-size="11.6" font-weight="bold" text-anchor="middle" fill="#000"  class="hb">alemtuzumab</text>
<text transform="translate(284.60,293.30) rotate(-90)" font-size="11.6" font-weight="bold" text-anchor="middle" fill="#000" class="hb">% Depletion</text>
<rect x="321.70" y="208.10" width="18.20" height="7.50" fill="#000" stroke="none" stroke-width="1" />
<text x="349.80" y="215.60" font-size="10.3" font-weight="normal" text-anchor="start" fill="#000"  class="hr">B cells</text>
<rect x="322.35" y="224.40" width="16.90" height="6.20" fill="#8c8c8c" stroke="#000" stroke-width="1.3" />
<text x="349.80" y="231.25" font-size="10.3" font-weight="normal" text-anchor="start" fill="#000"  class="hr">T cells</text>
<rect x="322.35" y="240.05" width="16.90" height="6.20" fill="#fff" stroke="#000" stroke-width="1.3" />
<text x="349.80" y="246.90" font-size="10.3" font-weight="normal" text-anchor="start" fill="#000"  class="hr">NK cells</text>
<rect x="322.35" y="255.70" width="16.90" height="6.20" fill="url(#hl)" stroke="#000" stroke-width="1.3" />
<text x="349.80" y="262.55" font-size="10.3" font-weight="normal" text-anchor="start" fill="#000"  class="hr">Monocytes</text>
<text x="0.40" y="409.50" font-size="11.2" font-weight="bold" text-anchor="start" fill="#000"  class="hb">E</text>
<line x1="32.00" y1="422.85" x2="32.00" y2="565.15" stroke="#000" stroke-width="1.55" />
<line x1="27.60" y1="423.60" x2="32.00" y2="423.60" stroke="#000" stroke-width="1.45" />
<text transform="translate(26.60,427.50) scale(0.9,1)" font-size="10.6" font-weight="bold" text-anchor="end" fill="#000"  class="hb">80</text>
<line x1="27.60" y1="452.20" x2="32.00" y2="452.20" stroke="#000" stroke-width="1.45" />
<text transform="translate(26.60,456.10) scale(0.9,1)" font-size="10.6" font-weight="bold" text-anchor="end" fill="#000"  class="hb">60</text>
<line x1="27.60" y1="480.80" x2="32.00" y2="480.80" stroke="#000" stroke-width="1.45" />
<text transform="translate(26.60,484.70) scale(0.9,1)" font-size="10.6" font-weight="bold" text-anchor="end" fill="#000"  class="hb">40</text>
<line x1="27.60" y1="509.40" x2="32.00" y2="509.40" stroke="#000" stroke-width="1.45" />
<text transform="translate(26.60,513.30) scale(0.9,1)" font-size="10.6" font-weight="bold" text-anchor="end" fill="#000"  class="hb">20</text>
<line x1="27.60" y1="538.00" x2="32.00" y2="538.00" stroke="#000" stroke-width="1.45" />
<text transform="translate(26.60,541.90) scale(0.9,1)" font-size="10.6" font-weight="bold" text-anchor="end" fill="#000"  class="hb">0</text>
<line x1="31.25" y1="564.40" x2="160.10" y2="564.40" stroke="#000" stroke-width="1.6" />
<line x1="39.58" y1="564.40" x2="39.58" y2="567.00" stroke="#000" stroke-width="1.1" />
<line x1="44.07" y1="564.40" x2="44.07" y2="567.00" stroke="#000" stroke-width="1.1" />
<line x1="47.25" y1="564.40" x2="47.25" y2="567.00" stroke="#000" stroke-width="1.1" />
<line x1="49.72" y1="564.40" x2="49.72" y2="567.00" stroke="#000" stroke-width="1.1" />
<line x1="51.74" y1="564.40" x2="51.74" y2="567.00" stroke="#000" stroke-width="1.1" />
<line x1="53.45" y1="564.40" x2="53.45" y2="567.00" stroke="#000" stroke-width="1.1" />
<line x1="54.93" y1="564.40" x2="54.93" y2="567.00" stroke="#000" stroke-width="1.1" />
<line x1="56.23" y1="564.40" x2="56.23" y2="567.00" stroke="#000" stroke-width="1.1" />
<line x1="57.40" y1="564.40" x2="57.40" y2="568.80" stroke="#000" stroke-width="1.4" />
<line x1="65.08" y1="564.40" x2="65.08" y2="567.00" stroke="#000" stroke-width="1.1" />
<line x1="69.57" y1="564.40" x2="69.57" y2="567.00" stroke="#000" stroke-width="1.1" />
<line x1="72.75" y1="564.40" x2="72.75" y2="567.00" stroke="#000" stroke-width="1.1" />
<line x1="75.22" y1="564.40" x2="75.22" y2="567.00" stroke="#000" stroke-width="1.1" />
<line x1="77.24" y1="564.40" x2="77.24" y2="567.00" stroke="#000" stroke-width="1.1" />
<line x1="78.95" y1="564.40" x2="78.95" y2="567.00" stroke="#000" stroke-width="1.1" />
<line x1="80.43" y1="564.40" x2="80.43" y2="567.00" stroke="#000" stroke-width="1.1" />
<line x1="81.73" y1="564.40" x2="81.73" y2="567.00" stroke="#000" stroke-width="1.1" />
<line x1="82.90" y1="564.40" x2="82.90" y2="568.80" stroke="#000" stroke-width="1.4" />
<line x1="90.58" y1="564.40" x2="90.58" y2="567.00" stroke="#000" stroke-width="1.1" />
<line x1="95.07" y1="564.40" x2="95.07" y2="567.00" stroke="#000" stroke-width="1.1" />
<line x1="98.25" y1="564.40" x2="98.25" y2="567.00" stroke="#000" stroke-width="1.1" />
<line x1="100.72" y1="564.40" x2="100.72" y2="567.00" stroke="#000" stroke-width="1.1" />
<line x1="102.74" y1="564.40" x2="102.74" y2="567.00" stroke="#000" stroke-width="1.1" />
<line x1="104.45" y1="564.40" x2="104.45" y2="567.00" stroke="#000" stroke-width="1.1" />
<line x1="105.93" y1="564.40" x2="105.93" y2="567.00" stroke="#000" stroke-width="1.1" />
<line x1="107.23" y1="564.40" x2="107.23" y2="567.00" stroke="#000" stroke-width="1.1" />
<line x1="108.40" y1="564.40" x2="108.40" y2="568.80" stroke="#000" stroke-width="1.4" />
<line x1="116.08" y1="564.40" x2="116.08" y2="567.00" stroke="#000" stroke-width="1.1" />
<line x1="120.57" y1="564.40" x2="120.57" y2="567.00" stroke="#000" stroke-width="1.1" />
<line x1="123.75" y1="564.40" x2="123.75" y2="567.00" stroke="#000" stroke-width="1.1" />
<line x1="126.22" y1="564.40" x2="126.22" y2="567.00" stroke="#000" stroke-width="1.1" />
<line x1="128.24" y1="564.40" x2="128.24" y2="567.00" stroke="#000" stroke-width="1.1" />
<line x1="129.95" y1="564.40" x2="129.95" y2="567.00" stroke="#000" stroke-width="1.1" />
<line x1="131.43" y1="564.40" x2="131.43" y2="567.00" stroke="#000" stroke-width="1.1" />
<line x1="132.73" y1="564.40" x2="132.73" y2="567.00" stroke="#000" stroke-width="1.1" />
<line x1="133.90" y1="564.40" x2="133.90" y2="568.80" stroke="#000" stroke-width="1.4" />
<line x1="141.58" y1="564.40" x2="141.58" y2="567.00" stroke="#000" stroke-width="1.1" />
<line x1="146.07" y1="564.40" x2="146.07" y2="567.00" stroke="#000" stroke-width="1.1" />
<line x1="149.25" y1="564.40" x2="149.25" y2="567.00" stroke="#000" stroke-width="1.1" />
<line x1="151.72" y1="564.40" x2="151.72" y2="567.00" stroke="#000" stroke-width="1.1" />
<line x1="153.74" y1="564.40" x2="153.74" y2="567.00" stroke="#000" stroke-width="1.1" />
<line x1="155.45" y1="564.40" x2="155.45" y2="567.00" stroke="#000" stroke-width="1.1" />
<line x1="156.93" y1="564.40" x2="156.93" y2="567.00" stroke="#000" stroke-width="1.1" />
<line x1="158.23" y1="564.40" x2="158.23" y2="567.00" stroke="#000" stroke-width="1.1" />
<line x1="159.40" y1="564.40" x2="159.40" y2="568.80" stroke="#000" stroke-width="1.4" />
<text transform="translate(57.70,579.30) scale(0.87,1)" font-size="10.8" font-weight="bold" text-anchor="middle" fill="#000"  class="hb">0.001</text>
<text transform="translate(82.90,579.30) scale(0.87,1)" font-size="10.8" font-weight="bold" text-anchor="middle" fill="#000"  class="hb">0.01</text>
<text transform="translate(108.00,579.30) scale(0.87,1)" font-size="10.8" font-weight="bold" text-anchor="middle" fill="#000"  class="hb">0.1</text>
<text transform="translate(133.70,579.30) scale(0.87,1)" font-size="10.8" font-weight="bold" text-anchor="middle" fill="#000"  class="hb">1</text>
<text transform="translate(158.60,579.30) scale(0.87,1)" font-size="10.8" font-weight="bold" text-anchor="middle" fill="#000"  class="hb">10</text>
<text x="95.3" y="595.4" font-size="11.2" font-weight="bold" text-anchor="middle" fill="#000" class="hb">mAb concentration ( <tspan font-weight="normal" stroke="none">&#181;</tspan>g/mL)</text>
<text transform="translate(9.70,494.00) rotate(-90)" font-size="11.3" font-weight="bold" text-anchor="middle" fill="#000" class="hb">% Depletion</text>
<path d="M34.63,553.13 L35.88,553.12 L37.13,553.12 L38.38,553.11 L39.62,553.10 L40.87,553.09 L42.12,553.08 L43.37,553.07 L44.62,553.05 L45.86,553.04 L47.11,553.01 L48.36,552.99 L49.61,552.96 L50.85,552.93 L52.10,552.89 L53.35,552.84 L54.60,552.79 L55.84,552.73 L57.09,552.65 L58.34,552.57 L59.59,552.47 L60.83,552.35 L62.08,552.21 L63.33,552.06 L64.58,551.87 L65.83,551.65 L67.07,551.40 L68.32,551.11 L69.57,550.76 L70.82,550.36 L72.06,549.90 L73.31,549.37 L74.56,548.75 L75.81,548.03 L77.05,547.21 L78.30,546.26 L79.55,545.18 L80.80,543.94 L82.04,542.53 L83.29,540.94 L84.54,539.14 L85.79,537.13 L87.04,534.89 L88.28,532.41 L89.53,529.69 L90.78,526.73 L92.03,523.54 L93.27,520.14 L94.52,516.55 L95.77,512.81 L97.02,508.94 L98.26,505.00 L99.51,501.03 L100.76,497.09 L102.01,493.21 L103.26,489.45 L104.50,485.85 L105.75,482.43 L107.00,479.22 L108.25,476.24 L109.49,473.49 L110.74,470.99 L111.99,468.73 L113.24,466.69 L114.48,464.87 L115.73,463.26 L116.98,461.83 L118.23,460.58 L119.47,459.48 L120.72,458.52 L121.97,457.69 L123.22,456.96 L124.47,456.33 L125.71,455.79 L126.96,455.32 L128.21,454.92 L129.46,454.57 L130.70,454.27 L131.95,454.02 L133.20,453.79 L134.45,453.61 L135.69,453.44 L136.94,453.31 L138.19,453.19 L139.44,453.09 L140.69,453.00 L141.93,452.92 L143.18,452.86 L144.43,452.81 L145.68,452.76 L146.92,452.72 L148.17,452.69 L149.42,452.66 L150.67,452.63 L151.91,452.61 L153.16,452.59 L154.41,452.58 L155.66,452.56 L156.90,452.55 L158.15,452.54 L159.40,452.53" fill="none" stroke="#000" stroke-width="1.3" />
<path d="M34.63,550.20 L52.46,544.00 L70.28,550.80 L88.11,539.90 L105.93,544.80 L123.75,545.50 L141.58,551.20 L159.40,544.30" fill="none" stroke="#000" stroke-width="1.25" stroke-linejoin="round"/>
<circle cx="34.63" cy="550.20" r="2.85" fill="#fff" stroke="#000" stroke-width="1.3"/>
<circle cx="52.46" cy="544.00" r="2.85" fill="#fff" stroke="#000" stroke-width="1.3"/>
<circle cx="70.28" cy="550.80" r="2.85" fill="#fff" stroke="#000" stroke-width="1.3"/>
<circle cx="88.11" cy="539.90" r="2.85" fill="#fff" stroke="#000" stroke-width="1.3"/>
<circle cx="105.93" cy="544.80" r="2.85" fill="#fff" stroke="#000" stroke-width="1.3"/>
<circle cx="123.75" cy="545.50" r="2.85" fill="#fff" stroke="#000" stroke-width="1.3"/>
<circle cx="141.58" cy="551.20" r="2.85" fill="#fff" stroke="#000" stroke-width="1.3"/>
<circle cx="159.40" cy="544.30" r="2.85" fill="#fff" stroke="#000" stroke-width="1.3"/>
<line x1="52.46" y1="548.00" x2="52.46" y2="552.60" stroke="#000" stroke-width="1.0" />
<line x1="50.46" y1="552.60" x2="54.46" y2="552.60" stroke="#000" stroke-width="0.9" />
<line x1="70.28" y1="550.00" x2="70.28" y2="555.60" stroke="#000" stroke-width="1.0" />
<line x1="67.68" y1="555.60" x2="72.88" y2="555.60" stroke="#000" stroke-width="0.9" />
<rect x="31.53" y="557.10" width="6.20" height="6.20" fill="#000" stroke="none" stroke-width="1" />
<rect x="49.36" y="545.10" width="6.20" height="6.20" fill="#000" stroke="none" stroke-width="1" />
<rect x="67.18" y="546.90" width="6.20" height="6.20" fill="#000" stroke="none" stroke-width="1" />
<rect x="85.01" y="527.50" width="6.20" height="6.20" fill="#000" stroke="none" stroke-width="1" />
<rect x="102.83" y="480.10" width="6.20" height="6.20" fill="#000" stroke="none" stroke-width="1" />
<rect x="120.65" y="456.70" width="6.20" height="6.20" fill="#000" stroke="none" stroke-width="1" />
<rect x="138.48" y="455.60" width="6.20" height="6.20" fill="#000" stroke="none" stroke-width="1" />
<rect x="156.30" y="444.70" width="6.20" height="6.20" fill="#000" stroke="none" stroke-width="1" />
<rect x="54.40" y="428.20" width="6.10" height="6.10" fill="#000" stroke="none" stroke-width="1" />
<text transform="translate(73.50,434.90) scale(0.95,1)" font-size="11.2" font-weight="bold" text-anchor="start" fill="#000"  class="hb">B cells</text>
<line x1="49.30" y1="450.00" x2="65.60" y2="450.00" stroke="#000" stroke-width="1.2" />
<circle cx="57.3" cy="450.0" r="3.0" fill="#fff" stroke="#000" stroke-width="1.25"/>
<text transform="translate(73.50,453.30) scale(0.95,1)" font-size="11.2" font-weight="bold" text-anchor="start" fill="#000"  class="hb">T cells</text>
<text x="193.50" y="409.10" font-size="11" font-weight="bold" text-anchor="start" fill="#000"  class="hb">F</text>
<line x1="235.10" y1="412.85" x2="235.10" y2="537.25" stroke="#000" stroke-width="1.55" />
<line x1="230.30" y1="413.60" x2="235.10" y2="413.60" stroke="#000" stroke-width="1.45" />
<text x="228.30" y="417.90" font-size="11.0" font-weight="bold" text-anchor="end" fill="#000"  class="hb">100</text>
<line x1="230.30" y1="438.18" x2="235.10" y2="438.18" stroke="#000" stroke-width="1.45" />
<text x="228.30" y="442.48" font-size="11.0" font-weight="bold" text-anchor="end" fill="#000"  class="hb">80</text>
<line x1="230.30" y1="462.76" x2="235.10" y2="462.76" stroke="#000" stroke-width="1.45" />
<text x="228.30" y="467.06" font-size="11.0" font-weight="bold" text-anchor="end" fill="#000"  class="hb">60</text>
<line x1="230.30" y1="487.34" x2="235.10" y2="487.34" stroke="#000" stroke-width="1.45" />
<text x="228.30" y="491.64" font-size="11.0" font-weight="bold" text-anchor="end" fill="#000"  class="hb">40</text>
<line x1="230.30" y1="511.92" x2="235.10" y2="511.92" stroke="#000" stroke-width="1.45" />
<text x="228.30" y="516.22" font-size="11.0" font-weight="bold" text-anchor="end" fill="#000"  class="hb">20</text>
<line x1="230.30" y1="536.50" x2="235.10" y2="536.50" stroke="#000" stroke-width="1.45" />
<text x="228.30" y="540.80" font-size="11.0" font-weight="bold" text-anchor="end" fill="#000"  class="hb">0</text>
<line x1="234.35" y1="536.50" x2="373.50" y2="536.50" stroke="#000" stroke-width="1.6" />
<text transform="translate(202.9,477.3) rotate(-90)" font-size="10.6" font-weight="bold" text-anchor="middle" textLength="66" fill="#000" class="hb">%Depletion</text>
<line x1="248.70" y1="452.19" x2="248.70" y2="441.38" stroke="#000" stroke-width="1.1" />
<line x1="245.10" y1="441.38" x2="252.30" y2="441.38" stroke="#000" stroke-width="1.1" />
<rect x="241.40" y="452.19" width="14.60" height="84.31" fill="#000" stroke="none" stroke-width="1" />
<line x1="248.70" y1="536.50" x2="248.70" y2="540.50" stroke="#000" stroke-width="1.25" />
<text transform="translate(251.70,553.00) rotate(-45) scale(1.0,1)" font-size="11.5" font-weight="bold" text-anchor="end" fill="#000" class="hb">IMGN529</text>
<line x1="276.55" y1="481.44" x2="276.55" y2="472.59" stroke="#000" stroke-width="1.1" />
<line x1="272.95" y1="472.59" x2="280.15" y2="472.59" stroke="#000" stroke-width="1.1" />
<rect x="269.25" y="481.44" width="14.60" height="55.06" fill="#000" stroke="none" stroke-width="1" />
<line x1="276.55" y1="536.50" x2="276.55" y2="540.50" stroke="#000" stroke-width="1.25" />
<text transform="translate(279.55,553.00) rotate(-45) scale(1.0,1)" font-size="11.5" font-weight="bold" text-anchor="end" fill="#000" class="hb">K7153A</text>
<line x1="304.40" y1="523.72" x2="304.40" y2="517.20" stroke="#000" stroke-width="1.1" />
<line x1="300.80" y1="517.20" x2="308.00" y2="517.20" stroke="#000" stroke-width="1.1" />
<rect x="297.10" y="523.72" width="14.60" height="12.78" fill="#000" stroke="none" stroke-width="1" />
<line x1="304.40" y1="536.50" x2="304.40" y2="540.50" stroke="#000" stroke-width="1.25" />
<text transform="translate(307.40,553.00) rotate(-45) scale(1.0,1)" font-size="11.5" font-weight="bold" text-anchor="end" fill="#000" class="hb">rituximab</text>
<line x1="332.25" y1="478.25" x2="332.25" y2="463.01" stroke="#000" stroke-width="1.1" />
<line x1="328.65" y1="463.01" x2="335.85" y2="463.01" stroke="#000" stroke-width="1.1" />
<rect x="324.95" y="478.25" width="14.60" height="58.25" fill="#000" stroke="none" stroke-width="1" />
<line x1="332.25" y1="536.50" x2="332.25" y2="540.50" stroke="#000" stroke-width="1.25" />
<text transform="translate(335.25,553.00) rotate(-45) scale(1.0,1)" font-size="11.5" font-weight="bold" text-anchor="end" fill="#000" class="hb">alemtuzumab</text>
<line x1="360.10" y1="529.99" x2="360.10" y2="525.56" stroke="#000" stroke-width="1.1" />
<line x1="356.50" y1="525.56" x2="363.70" y2="525.56" stroke="#000" stroke-width="1.1" />
<rect x="352.80" y="529.99" width="14.60" height="6.51" fill="#000" stroke="none" stroke-width="1" />
<line x1="360.10" y1="536.50" x2="360.10" y2="540.50" stroke="#000" stroke-width="1.25" />
<g transform="translate(364.70,551.40) rotate(-45) scale(1.0,1)" font-size="11.5" font-weight="bold" fill="#000" class="hb"><text text-anchor="end" letter-spacing="0.3">huIgG-SMCC</text><text x="-36.0" y="12.4" text-anchor="middle" letter-spacing="0.3">-DM1</text></g>
<text x="387.00" y="409.80" font-size="10.8" font-weight="bold" text-anchor="start" fill="#000"  class="hb">G</text>
<clipPath id="clipG"><rect x="380" y="425.2" width="30" height="10"/></clipPath>
<clipPath id="clipG2"><rect x="400" y="530" width="112.6" height="30"/></clipPath>
<line x1="403.80" y1="425.40" x2="511.20" y2="425.40" stroke="#444" stroke-width="0.9" />
<line x1="511.20" y1="425.40" x2="511.20" y2="530.50" stroke="#222" stroke-width="1.0" />
<line x1="401.20" y1="425.40" x2="403.80" y2="425.40" stroke="#444" stroke-width="0.7" />
<text x="400.10" y="427.00" font-size="4.3" font-weight="bold" text-anchor="end" fill="#111" clip-path="url(#clipG)">100</text>
<line x1="401.20" y1="446.45" x2="403.80" y2="446.45" stroke="#444" stroke-width="0.7" />
<text x="400.10" y="448.05" font-size="4.3" font-weight="bold" text-anchor="end" fill="#111" >80</text>
<line x1="401.20" y1="467.50" x2="403.80" y2="467.50" stroke="#444" stroke-width="0.7" />
<text x="400.10" y="469.10" font-size="4.3" font-weight="bold" text-anchor="end" fill="#111" >60</text>
<line x1="401.20" y1="488.55" x2="403.80" y2="488.55" stroke="#444" stroke-width="0.7" />
<text x="400.10" y="490.15" font-size="4.3" font-weight="bold" text-anchor="end" fill="#111" >40</text>
<line x1="401.20" y1="509.60" x2="403.80" y2="509.60" stroke="#444" stroke-width="0.7" />
<text x="400.10" y="511.20" font-size="4.3" font-weight="bold" text-anchor="end" fill="#111" >20</text>
<line x1="402.40" y1="429.61" x2="403.80" y2="429.61" stroke="#999" stroke-width="0.4" />
<line x1="402.40" y1="433.82" x2="403.80" y2="433.82" stroke="#999" stroke-width="0.4" />
<line x1="402.40" y1="438.03" x2="403.80" y2="438.03" stroke="#999" stroke-width="0.4" />
<line x1="402.40" y1="442.24" x2="403.80" y2="442.24" stroke="#999" stroke-width="0.4" />
<line x1="402.40" y1="450.66" x2="403.80" y2="450.66" stroke="#999" stroke-width="0.4" />
<line x1="402.40" y1="454.87" x2="403.80" y2="454.87" stroke="#999" stroke-width="0.4" />
<line x1="402.40" y1="459.08" x2="403.80" y2="459.08" stroke="#999" stroke-width="0.4" />
<line x1="402.40" y1="463.29" x2="403.80" y2="463.29" stroke="#999" stroke-width="0.4" />
<line x1="402.40" y1="471.71" x2="403.80" y2="471.71" stroke="#999" stroke-width="0.4" />
<line x1="402.40" y1="475.92" x2="403.80" y2="475.92" stroke="#999" stroke-width="0.4" />
<line x1="402.40" y1="480.13" x2="403.80" y2="480.13" stroke="#999" stroke-width="0.4" />
<line x1="402.40" y1="484.34" x2="403.80" y2="484.34" stroke="#999" stroke-width="0.4" />
<line x1="402.40" y1="492.76" x2="403.80" y2="492.76" stroke="#999" stroke-width="0.4" />
<line x1="402.40" y1="496.97" x2="403.80" y2="496.97" stroke="#999" stroke-width="0.4" />
<line x1="402.40" y1="501.18" x2="403.80" y2="501.18" stroke="#999" stroke-width="0.4" />
<line x1="402.40" y1="505.39" x2="403.80" y2="505.39" stroke="#999" stroke-width="0.4" />
<line x1="402.40" y1="513.81" x2="403.80" y2="513.81" stroke="#999" stroke-width="0.4" />
<line x1="402.40" y1="518.02" x2="403.80" y2="518.02" stroke="#999" stroke-width="0.4" />
<line x1="402.40" y1="522.23" x2="403.80" y2="522.23" stroke="#999" stroke-width="0.4" />
<line x1="402.40" y1="526.44" x2="403.80" y2="526.44" stroke="#999" stroke-width="0.4" />
<line x1="403.80" y1="530.50" x2="403.80" y2="533.30" stroke="#222" stroke-width="0.8" />
<line x1="411.88" y1="530.50" x2="411.88" y2="532.20" stroke="#555" stroke-width="0.55" />
<line x1="416.61" y1="530.50" x2="416.61" y2="532.20" stroke="#555" stroke-width="0.55" />
<line x1="419.97" y1="530.50" x2="419.97" y2="532.20" stroke="#555" stroke-width="0.55" />
<line x1="422.57" y1="530.50" x2="422.57" y2="532.20" stroke="#555" stroke-width="0.55" />
<line x1="424.69" y1="530.50" x2="424.69" y2="532.20" stroke="#555" stroke-width="0.55" />
<line x1="426.49" y1="530.50" x2="426.49" y2="532.20" stroke="#555" stroke-width="0.55" />
<line x1="428.05" y1="530.50" x2="428.05" y2="532.20" stroke="#555" stroke-width="0.55" />
<line x1="429.42" y1="530.50" x2="429.42" y2="532.20" stroke="#555" stroke-width="0.55" />
<line x1="430.65" y1="530.50" x2="430.65" y2="533.30" stroke="#222" stroke-width="0.8" />
<line x1="438.73" y1="530.50" x2="438.73" y2="532.20" stroke="#555" stroke-width="0.55" />
<line x1="443.46" y1="530.50" x2="443.46" y2="532.20" stroke="#555" stroke-width="0.55" />
<line x1="446.82" y1="530.50" x2="446.82" y2="532.20" stroke="#555" stroke-width="0.55" />
<line x1="449.42" y1="530.50" x2="449.42" y2="532.20" stroke="#555" stroke-width="0.55" />
<line x1="451.54" y1="530.50" x2="451.54" y2="532.20" stroke="#555" stroke-width="0.55" />
<line x1="453.34" y1="530.50" x2="453.34" y2="532.20" stroke="#555" stroke-width="0.55" />
<line x1="454.90" y1="530.50" x2="454.90" y2="532.20" stroke="#555" stroke-width="0.55" />
<line x1="456.27" y1="530.50" x2="456.27" y2="532.20" stroke="#555" stroke-width="0.55" />
<line x1="457.50" y1="530.50" x2="457.50" y2="533.30" stroke="#222" stroke-width="0.8" />
<line x1="465.58" y1="530.50" x2="465.58" y2="532.20" stroke="#555" stroke-width="0.55" />
<line x1="470.31" y1="530.50" x2="470.31" y2="532.20" stroke="#555" stroke-width="0.55" />
<line x1="473.67" y1="530.50" x2="473.67" y2="532.20" stroke="#555" stroke-width="0.55" />
<line x1="476.27" y1="530.50" x2="476.27" y2="532.20" stroke="#555" stroke-width="0.55" />
<line x1="478.39" y1="530.50" x2="478.39" y2="532.20" stroke="#555" stroke-width="0.55" />
<line x1="480.19" y1="530.50" x2="480.19" y2="532.20" stroke="#555" stroke-width="0.55" />
<line x1="481.75" y1="530.50" x2="481.75" y2="532.20" stroke="#555" stroke-width="0.55" />
<line x1="483.12" y1="530.50" x2="483.12" y2="532.20" stroke="#555" stroke-width="0.55" />
<line x1="484.35" y1="530.50" x2="484.35" y2="533.30" stroke="#222" stroke-width="0.8" />
<line x1="492.43" y1="530.50" x2="492.43" y2="532.20" stroke="#555" stroke-width="0.55" />
<line x1="497.16" y1="530.50" x2="497.16" y2="532.20" stroke="#555" stroke-width="0.55" />
<line x1="500.52" y1="530.50" x2="500.52" y2="532.20" stroke="#555" stroke-width="0.55" />
<line x1="503.12" y1="530.50" x2="503.12" y2="532.20" stroke="#555" stroke-width="0.55" />
<line x1="505.24" y1="530.50" x2="505.24" y2="532.20" stroke="#555" stroke-width="0.55" />
<line x1="507.04" y1="530.50" x2="507.04" y2="532.20" stroke="#555" stroke-width="0.55" />
<line x1="508.60" y1="530.50" x2="508.60" y2="532.20" stroke="#555" stroke-width="0.55" />
<line x1="509.97" y1="530.50" x2="509.97" y2="532.20" stroke="#555" stroke-width="0.55" />
<line x1="511.20" y1="530.50" x2="511.20" y2="533.30" stroke="#222" stroke-width="0.8" />
<text x="403.80" y="546.00" font-size="4.6" font-weight="bold" text-anchor="start" fill="#111" clip-path="url(#clipG2)">10</text>
<text x="409.20" y="543.20" font-size="3.8" font-weight="bold" text-anchor="start" fill="#111" clip-path="url(#clipG2)">0</text>
<text x="429.80" y="546.00" font-size="4.6" font-weight="bold" text-anchor="start" fill="#111" clip-path="url(#clipG2)">10</text>
<text x="435.20" y="543.20" font-size="3.8" font-weight="bold" text-anchor="start" fill="#111" clip-path="url(#clipG2)">1</text>
<text x="455.60" y="546.00" font-size="4.6" font-weight="bold" text-anchor="start" fill="#111" clip-path="url(#clipG2)">10</text>
<text x="461.00" y="543.20" font-size="3.8" font-weight="bold" text-anchor="start" fill="#111" clip-path="url(#clipG2)">2</text>
<text x="480.00" y="546.00" font-size="4.6" font-weight="bold" text-anchor="start" fill="#111" clip-path="url(#clipG2)">10</text>
<text x="485.40" y="543.20" font-size="3.8" font-weight="bold" text-anchor="start" fill="#111" clip-path="url(#clipG2)">3</text>
<text x="505.60" y="546.00" font-size="4.6" font-weight="bold" text-anchor="start" fill="#111" clip-path="url(#clipG2)">10</text>
<text x="511.00" y="543.20" font-size="3.8" font-weight="bold" text-anchor="start" fill="#111" clip-path="url(#clipG2)">4</text>
<path d="M403.90,474.00 C404.00,478.00 404.28,491.50 404.50,498.00 C404.72,504.50 404.85,512.33 405.20,513.00 C405.55,513.67 405.90,507.90 406.60,502.00 C407.30,496.10 408.55,483.80 409.40,477.60 C410.25,471.40 411.02,467.58 411.70,464.80 C412.38,462.02 412.80,460.32 413.50,460.90 C414.20,461.48 415.12,463.97 415.90,468.30 C416.68,472.63 417.43,480.92 418.20,486.90 C418.97,492.88 419.73,499.18 420.50,504.20 C421.27,509.22 421.83,513.52 422.80,517.00 C423.77,520.48 424.95,523.10 426.30,525.10 C427.65,527.10 429.17,528.15 430.90,529.00 C432.63,529.85 435.73,530.00 436.70,530.20 L436.7,530.5 L403.9,530.5 Z" fill="#e6e6e6" stroke="none" stroke-width="1" />
<path d="M403.90,474.00 C404.00,478.00 404.28,491.50 404.50,498.00 C404.72,504.50 404.85,512.33 405.20,513.00 C405.55,513.67 405.90,507.90 406.60,502.00 C407.30,496.10 408.55,483.80 409.40,477.60 C410.25,471.40 411.02,467.58 411.70,464.80 C412.38,462.02 412.80,460.32 413.50,460.90 C414.20,461.48 415.12,463.97 415.90,468.30 C416.68,472.63 417.43,480.92 418.20,486.90 C418.97,492.88 419.73,499.18 420.50,504.20 C421.27,509.22 421.83,513.52 422.80,517.00 C423.77,520.48 424.95,523.10 426.30,525.10 C427.65,527.10 429.17,528.15 430.90,529.00 C432.63,529.85 434.77,530.17 436.70,530.20 C438.63,530.23 440.75,529.85 442.50,529.20 C444.25,528.55 445.70,527.62 447.20,526.30 C448.70,524.98 450.23,523.62 451.50,521.30 C452.77,518.98 453.77,516.37 454.80,512.40 C455.83,508.43 456.80,503.73 457.70,497.50 C458.60,491.27 459.37,482.87 460.20,475.00 C461.03,467.13 462.03,456.63 462.70,450.30 C463.37,443.97 463.80,439.98 464.20,437.00 C464.60,434.02 464.80,432.40 465.10,432.40 C465.40,432.40 465.62,434.10 466.00,437.00 C466.38,439.90 466.78,443.42 467.40,449.80 C468.02,456.18 468.93,467.20 469.70,475.30 C470.47,483.40 471.23,491.83 472.00,498.40 C472.77,504.97 473.52,510.45 474.30,514.70 C475.08,518.95 475.80,521.55 476.70,523.90 C477.60,526.25 478.55,527.75 479.70,528.80 C480.85,529.85 478.38,529.93 483.60,530.20 C488.82,530.47 506.43,530.37 511.00,530.40" fill="none" stroke="#111" stroke-width="0.95" />
<path d="M419.50,530.00 C420.25,529.08 422.28,526.47 424.00,524.50 C425.72,522.53 427.87,520.62 429.80,518.20 C431.73,515.78 433.67,513.30 435.60,510.00 C437.53,506.70 439.67,502.45 441.40,498.40 C443.13,494.35 444.80,488.57 446.00,485.70 C447.20,482.83 447.87,482.12 448.60,481.20 C449.33,480.28 449.77,480.07 450.40,480.20 C451.03,480.33 451.70,481.08 452.40,482.00 C453.10,482.92 453.45,484.32 454.60,485.70 C455.75,487.08 457.75,488.75 459.30,490.30 C460.85,491.85 462.67,492.87 463.90,495.00 C465.13,497.13 465.73,499.82 466.70,503.10 C467.67,506.38 468.73,511.23 469.70,514.70 C470.67,518.17 471.53,521.58 472.50,523.90 C473.47,526.22 474.42,527.53 475.50,528.60 C476.58,529.67 478.42,530.02 479.00,530.30" fill="none" stroke="#000" stroke-width="1.05" stroke-dasharray="3.4 2.2"/>
<line x1="403.80" y1="425.10" x2="403.80" y2="531.10" stroke="#111" stroke-width="1.2" />
<line x1="403.20" y1="530.50" x2="511.60" y2="530.50" stroke="#111" stroke-width="1.3" />
</svg>
</body></html>
